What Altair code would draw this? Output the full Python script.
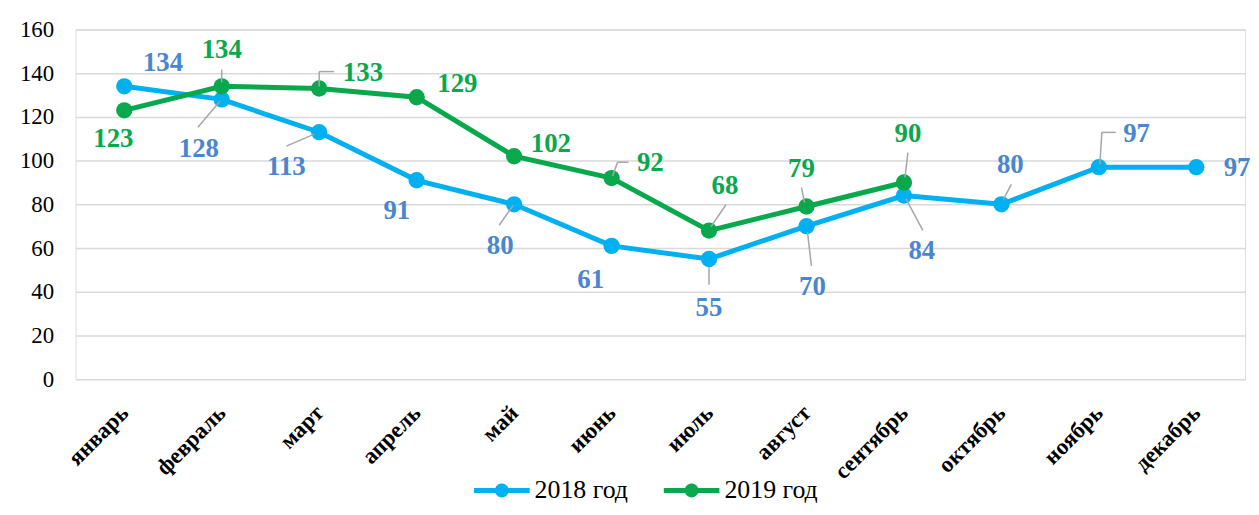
import json
import altair as alt
import pandas as pd

months = ["январь", "февраль", "март", "апрель", "май", "июнь", "июль",
          "август", "сентябрь", "октябрь", "ноябрь", "декабрь"]
series_names = ["2018 год", "2019 год"]
values_2018 = [134, 128, 113, 91, 80, 61, 55, 70, 84, 80, 97, 97]
values_2019 = [123, 134, 133, 129, 102, 92, 68, 79, 90]

# label placement: pixel offset of each label's centre from its point
label_dx_2018 = [39, -23, -33, -20, -14, -21, 0, 6, 18, 9, 38, 41]
label_dy_2018 = [-23, 50, 35, 31, 42, 34, 49, 61, 56, -40, -33, 1]
label_dx_2019 = [-11, 0, 44, 41, 37, 39, 16, -5, 4]
label_dy_2019 = [29, -36, -16, -13, -12, -15, -45, -38, -49]

# leader lines: series, month index, polyline of pixel offsets from the point
leaders = [
    ("2018 год", 1, [(-2, 2), (-24, 28)]),
    ("2018 год", 2, [(-5, 2), (-33, 14)]),
    ("2018 год", 4, [(-1, 1), (-15, 21)]),
    ("2018 год", 6, [(0, 8), (0, 26)]),
    ("2018 год", 7, [(1, 6), (5, 40)]),
    ("2018 год", 8, [(2, 3), (19, 35)]),
    ("2018 год", 9, [(2, -5), (10, -20)]),
    ("2018 год", 10, [(1, -3), (3, -35), (17, -35)]),
    ("2019 год", 1, [(0, -4), (0, -17)]),
    ("2019 год", 2, [(0, -2), (0, -17), (15, -17)]),
    ("2019 год", 5, [(1, -2), (6, -16), (17, -16)]),
    ("2019 год", 6, [(2, -4), (17, -26)]),
    ("2019 год", 7, [(-2, -4), (-5, -19)]),
    ("2019 год", 8, [(1, -5), (4, -30)]),
]

W, H = 1177, 352
Y_MAX = 160
PX_X = W / 12.0
PX_Y = H / Y_MAX

line_colors = ["#00B0F0", "#0AA84C"]
label_colors = ["#4A86D0", "#0AA84C"]

rows = []
for name, vals, dxs, dys in [
    (series_names[0], values_2018, label_dx_2018, label_dy_2018),
    (series_names[1], values_2019, label_dx_2019, label_dy_2019),
]:
    for i, v in enumerate(vals):
        rows.append({
            "series": name, "idx": i, "month": months[i], "value": v,
            "lx": i + dxs[i] / PX_X, "ly": v - dys[i] / PX_Y,
        })
df = pd.DataFrame(rows)

val_map = {series_names[0]: values_2018, series_names[1]: values_2019}
seg_rows = []
for name, i, pts in leaders:
    v = val_map[name][i]
    for (ax, ay), (bx, by) in zip(pts[:-1], pts[1:]):
        seg_rows.append({
            "series": name,
            "x1": i + ax / PX_X, "y1": v - ay / PX_Y,
            "x2": i + bx / PX_X, "y2": v - by / PX_Y,
        })
seg = pd.DataFrame(seg_rows)

FONT = "Liberation Serif"
label_expr = json.dumps(months, ensure_ascii=False) + "[datum.value]"

x_scale = alt.Scale(domain=[-0.5, 11.5], nice=False, zero=False)
y_scale = alt.Scale(domain=[0, Y_MAX], nice=False)
series_scale = alt.Scale(domain=series_names, range=line_colors)

x_axis = alt.Axis(values=list(range(12)), labelExpr=label_expr, title=None,
                  grid=False, ticks=False, tickSize=0, domain=False,
                  labelAngle=-45, labelAlign="right", labelBaseline="middle",
                  labelPadding=30, labelFont=FONT, labelFontSize=23,
                  labelFontWeight="bold", labelColor="#000000", labelOverlap=False)
y_axis = alt.Axis(values=list(range(0, Y_MAX + 1, 20)), title=None,
                  grid=True, gridColor="#D9D9D9", gridWidth=1.5,
                  ticks=False, tickSize=0, domain=False, labelPadding=22,
                  labelFont=FONT, labelFontSize=23, labelColor="#000000")

legend_path = ("M-1,-0.09 H-0.233 A0.25,0.25 0 0 1 0.233,-0.09 H1 V0.09 "
               "H0.233 A0.25,0.25 0 0 1 -0.233,0.09 H-1 Z")
legend = alt.Legend(orient="none", legendX=401, legendY=436,
                    direction="horizontal", title=None,
                    symbolType=legend_path, symbolSize=3136,
                    symbolStrokeWidth=0, symbolOpacity=1,
                    labelFont=FONT, labelFontSize=26,
                    labelColor="#000000", labelOffset=5,
                    columnPadding=36)

base = alt.Chart(df)

lines = base.mark_line(strokeWidth=5).encode(
    x=alt.X("idx:Q", scale=x_scale, axis=x_axis),
    y=alt.Y("value:Q", scale=y_scale, axis=y_axis),
    stroke=alt.Stroke("series:N", scale=series_scale, legend=legend),
)

points = base.mark_circle(size=270, opacity=1).encode(
    x=alt.X("idx:Q", scale=x_scale),
    y=alt.Y("value:Q", scale=y_scale),
    fill=alt.Fill("series:N", scale=series_scale, legend=legend),
)

leader_lines = alt.Chart(seg).mark_rule(color="#A6A6A6", strokeWidth=1.5).encode(
    x=alt.X("x1:Q", scale=x_scale),
    y=alt.Y("y1:Q", scale=y_scale),
    x2="x2:Q",
    y2="y2:Q",
)

text_layers = []
for name, col in zip(series_names, label_colors):
    text_layers.append(
        base.transform_filter(alt.datum.series == name).mark_text(
            font=FONT, fontSize=27, fontWeight="bold", color=col,
            align="center", baseline="middle",
        ).encode(
            x=alt.X("lx:Q", scale=x_scale),
            y=alt.Y("ly:Q", scale=y_scale),
            text="value:Q",
        )
    )

chart = alt.layer(lines, points, leader_lines, *text_layers).properties(
    width=W, height=H,
    autosize=alt.AutoSizeParams(type="none"),
    padding={"left": 68, "top": 20, "right": 6, "bottom": 124},
).configure_view(stroke=None).configure_legend(
    labelFont=FONT, labelFontSize=26, labelColor="#000000"
).configure(background="#FFFFFF")

chart.save("out.html", embed_options={"renderer": "svg", "actions": False})
